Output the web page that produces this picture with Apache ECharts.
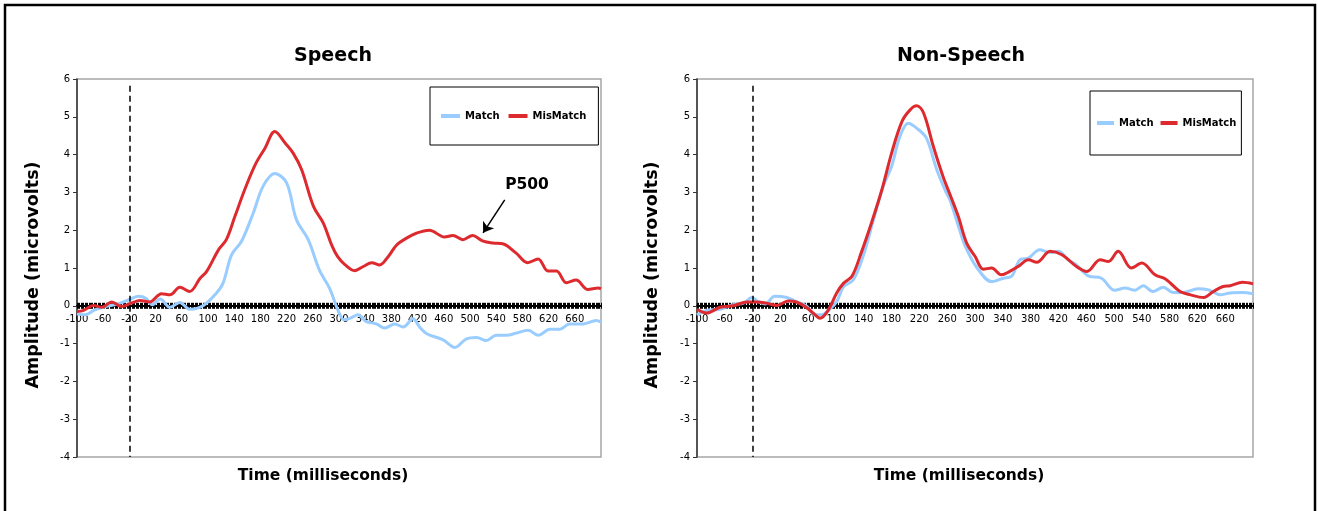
<!DOCTYPE html>
<html>
<head>
<meta charset="utf-8">
<script src="https://cdn.jsdelivr.net/npm/echarts@6/dist/echarts.min.js"></script>
<style>html,body{margin:0;padding:0;background:#fff;}#c{width:1318px;height:511px;}</style>
</head>
<body>
<div id="c"></div>
<script>
// ---- Data (time in ms, amplitude in microvolts) ----
var speechMatchT = [-100,-88,-72,-58,-45,-34,-18,-6,5,15,27,42,57,72,93,113,123,136,151,169,184,202,220,235,253,270,286,298,308,318,329,341,357,370,385,398,413,423,434,459,477,494,510,525,540,556,571,589,604,622,637,652,673,693,700];
var speechMatchV = [-0.22,-0.24,-0.1,-0.03,0.02,0.07,0.18,0.25,0.2,0.03,0.18,-0.04,0.09,-0.09,0.01,0.34,0.6,1.35,1.7,2.45,3.16,3.5,3.25,2.28,1.75,0.95,0.45,-0.1,-0.37,-0.32,-0.24,-0.41,-0.48,-0.59,-0.48,-0.56,-0.34,-0.56,-0.74,-0.9,-1.1,-0.88,-0.84,-0.92,-0.78,-0.78,-0.72,-0.65,-0.78,-0.62,-0.62,-0.48,-0.48,-0.39,-0.43];

var speechMisT = [-100,-90,-75,-62,-47,-32,-17,-4,11,29,42,57,72,88,98,116,128,141,156,172,187,202,218,230,243,261,276,289,298,309,324,337,350,362,375,388,403,418,438,461,474,489,504,519,535,550,570,588,604,619,632,647,662,680,696,700];
var speechMisV = [-0.15,-0.12,0.01,-0.04,0.1,-0.02,0.07,0.14,0.1,0.32,0.29,0.49,0.38,0.73,0.91,1.48,1.75,2.36,3.07,3.73,4.17,4.61,4.3,4.04,3.6,2.63,2.19,1.6,1.3,1.09,0.93,1.04,1.14,1.08,1.3,1.61,1.79,1.92,2.0,1.82,1.86,1.75,1.86,1.72,1.66,1.64,1.4,1.14,1.24,0.92,0.92,0.61,0.68,0.43,0.47,0.45];

var nonMatchT = [-100,-86,-67,-48,-33,-21,-12,-2,12,29,43,57,70,79,91,101,111,125,139,154,168,180,192,204,216,230,245,259,264,278,286,303,324,341,353,365,377,393,408,420,434,446,463,482,501,516,530,542,556,571,585,599,621,636,653,667,685,700];
var nonMatchV = [-0.24,-0.12,-0.09,0.03,0.07,0.22,0.11,0.05,0.25,0.22,0.11,0,-0.24,-0.24,-0.09,0.11,0.51,0.69,1.31,2.28,3.16,3.69,4.48,4.83,4.7,4.44,3.6,2.98,2.8,2.0,1.57,1.0,0.64,0.73,0.79,1.22,1.26,1.48,1.41,1.44,1.22,1.08,0.79,0.73,0.41,0.47,0.41,0.53,0.38,0.49,0.35,0.35,0.45,0.42,0.29,0.34,0.35,0.32];

var nonMisT = [-100,-86,-67,-48,-28,-14,0,15,31,43,57,70,77,89,101,111,123,137,151,166,180,195,207,216,226,240,254,266,276,288,300,312,324,338,350,362,377,389,408,425,446,461,480,492,506,525,540,559,574,595,610,629,643,657,667,685,700];
var nonMisV = [-0.09,-0.19,-0.04,0,0.1,0.1,0.07,0.01,0.13,0.1,-0.04,-0.24,-0.33,-0.11,0.34,0.6,0.78,1.44,2.19,3.07,4.04,4.88,5.19,5.29,5.1,4.22,3.42,2.85,2.36,1.66,1.31,0.97,1.0,0.82,0.91,1.04,1.22,1.15,1.44,1.35,1.04,0.91,1.22,1.17,1.44,1.0,1.13,0.82,0.71,0.38,0.29,0.22,0.38,0.51,0.53,0.62,0.58];

var panelTitles = ['Speech', 'Non-Speech'];
var seriesNames = ['Match', 'MisMatch'];
var yAxisTitle = 'Amplitude (microvolts)';
var xAxisTitle = 'Time (milliseconds)';
var stimulusOnset = -20;           // dashed marker position on the time axis
var p500Label = 'P500';
var p500Arrow = [[553, 2.8], [520, 1.93]];
var p500Text = [587, 3.2];

// ---- Build ----
function pairs(t, v) { return t.map(function (x, i) { return [x, v[i]]; }); }

var FONT = 'DejaVu Sans';
var BLUE = '#99CCFF', RED = '#DD2A2E';
var Y_MIN = -4, Y_MAX = 6, PLOT_H = 378;
// shift the time axis up so it sits on amplitude 0
var ZERO_OFFSET = -PLOT_H * (0 - Y_MIN) / (Y_MAX - Y_MIN);

var grids = [
  { left: 77, top: 79, width: 524, height: PLOT_H },
  { left: 697, top: 79, width: 556, height: PLOT_H }
].map(function (g) {
  return Object.assign({ show: true, borderColor: '#A6A6A6', borderWidth: 1.5, backgroundColor: '#fff' }, g);
});

function xAx(i, inner) {
  return {
    gridIndex: i, type: 'value', min: -100, max: 700, interval: 40,
    position: 'bottom', offset: ZERO_OFFSET,
    axisLine: { show: !inner, onZero: false, lineStyle: { color: '#000', width: 2 } },
    axisTick: { show: true, inside: !!inner, length: 3, lineStyle: { color: '#000', width: 1 } },
    minorTick: { show: true, splitNumber: 20, length: 3, lineStyle: { color: '#000', width: 1 } },
    splitLine: { show: false }, minorSplitLine: { show: false },
    axisLabel: { show: !inner, fontSize: 10, color: '#000', fontFamily: FONT, margin: 9, showMaxLabel: false,
      formatter: function (v) { return v === 700 ? '' : String(v); } }
  };
}
function yAx(i) {
  return {
    gridIndex: i, type: 'value', min: Y_MIN, max: Y_MAX, interval: 1,
    axisLine: { show: true, onZero: false, lineStyle: { color: '#333', width: 1.5 } },
    axisTick: { show: true, length: 4, lineStyle: { color: '#333' } },
    splitLine: { show: false },
    axisLabel: { fontSize: 10, color: '#000', fontFamily: FONT, margin: 7 }
  };
}

var dashedLine = {
  silent: true, symbol: 'none', animation: false,
  lineStyle: { type: [6, 4], color: '#000', width: 1.5 },
  label: { show: false },
  data: [[{ coord: [stimulusOnset, 5.82] }, { coord: [stimulusOnset, Y_MIN] }]]
};

function lineSeries(name, data, color, gi, extra) {
  return Object.assign({
    name: name, type: 'line', xAxisIndex: gi, yAxisIndex: gi,
    data: data, smooth: 0.35, symbol: 'none', showSymbol: false,
    lineStyle: { color: color, width: 3 }, itemStyle: { color: color },
    animation: false, z: color === RED ? 4 : 3
  }, extra || {});
}

var series = [
  lineSeries(seriesNames[0], pairs(speechMatchT, speechMatchV), BLUE, 0, { markLine: dashedLine }),
  lineSeries(seriesNames[1], pairs(speechMisT, speechMisV), RED, 0, {
    markLine: {
      silent: true, animation: false, symbol: ['none', 'arrow'], symbolSize: 10,
      lineStyle: { type: 'solid', color: '#000', width: 1.5 }, itemStyle: { color: '#000' },
      label: { show: false },
      data: [[{ coord: p500Arrow[0] }, { coord: p500Arrow[1] }]]
    },
    markPoint: {
      silent: true, animation: false, symbol: 'circle', symbolSize: 1,
      itemStyle: { color: 'rgba(0,0,0,0)' },
      label: { show: true, position: 'inside', formatter: p500Label, color: '#000', fontWeight: 'bold', fontSize: 15.5, fontFamily: FONT },
      data: [{ coord: p500Text }]
    }
  }),
  lineSeries(seriesNames[0], pairs(nonMatchT, nonMatchV), BLUE, 1, { markLine: dashedLine }),
  lineSeries(seriesNames[1], pairs(nonMisT, nonMisV), RED, 1)
];

function legend(left, top, pad, w, gap) {
  return {
    left: left, top: top, orient: 'horizontal', data: seriesNames,
    backgroundColor: '#fff', borderColor: '#000', borderWidth: 1, borderRadius: 0,
    padding: pad, icon: 'rect', itemWidth: w, itemHeight: 4, itemGap: gap,
    textStyle: { fontSize: 10, fontWeight: 'bold', color: '#000', fontFamily: FONT }
  };
}

function txt(x, y, s, size, rot) {
  return {
    type: 'text', x: x, y: y, rotation: rot || 0, silent: true,
    style: { text: s, fontSize: size, fontWeight: 'bold', fontFamily: FONT, fill: '#000',
      textAlign: 'center', textVerticalAlign: 'middle' }
  };
}

var option = {
  animation: false,
  textStyle: { fontFamily: FONT },
  grid: grids,
  xAxis: [xAx(0), xAx(1), xAx(0, true), xAx(1, true)],
  yAxis: [yAx(0), yAx(1)],
  legend: [legend(430, 87, [24, 12, 24, 11], 19, 9), legend(1090, 91, [27, 5, 27, 7], 17, 7)],
  series: series,
  graphic: [
    { type: 'rect', silent: true, shape: { x: 5, y: 5, width: 1310, height: 530 },
      style: { fill: 'none', stroke: '#000', lineWidth: 2.5 } },
    txt(333, 56, panelTitles[0], 19),
    txt(961, 56, panelTitles[1], 19),
    txt(33, 275, yAxisTitle, 17.5, Math.PI / 2),
    txt(652, 275, yAxisTitle, 17.5, Math.PI / 2),
    txt(323, 476, xAxisTitle, 15.5),
    txt(959, 476, xAxisTitle, 15.5)
  ]
};

var chart = echarts.init(document.getElementById('c'), null, { renderer: 'canvas' });
chart.setOption(option);
</script>
</body>
</html>
